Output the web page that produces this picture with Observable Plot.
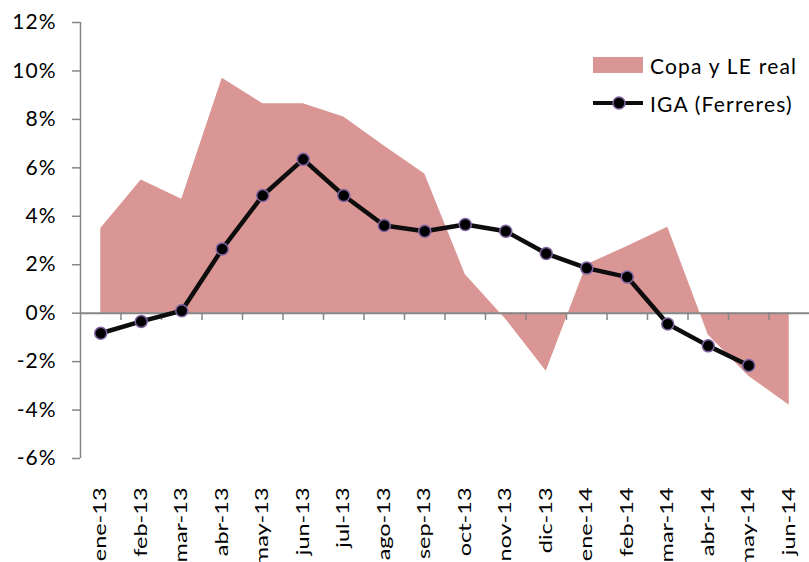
<!DOCTYPE html>
<html><head><meta charset="utf-8">
<script src="https://cdn.jsdelivr.net/npm/d3@7"></script>
<script src="https://cdn.jsdelivr.net/npm/@observablehq/plot@0.6"></script>
<style>
body{margin:0;background:#fff;}
#wrap{position:relative;width:809px;height:562px;}
#legend{position:absolute;left:593px;top:46px;font-family:Lato,"Open Sans",sans-serif;font-size:21px;letter-spacing:1.2px;color:#000;}
.row{display:flex;align-items:center;height:38px;}
.row svg{margin-right:7px;}
</style>
</head><body>
<div id="wrap"><div id="legend">
<div class="row"><svg width="50" height="16"><rect x="0" y="0" width="50" height="16" fill="#d99694"/></svg>Copa y LE real</div>
<div class="row"><svg width="50" height="16"><line x1="0" y1="8" x2="50" y2="8" stroke="#0d0d0d" stroke-width="4"/><circle cx="26" cy="8" r="6" fill="#000" stroke="#8064a2" stroke-width="1.5"/></svg>IGA (Ferreres)</div>
</div></div>
<script>
const months = ["ene-13","feb-13","mar-13","abr-13","may-13","jun-13","jul-13","ago-13","sep-13","oct-13","nov-13","dic-13","ene-14","feb-14","mar-14","abr-14","may-14","jun-14"];
const copa = [3.5, 5.5, 4.7, 9.7, 8.65, 8.65, 8.1, 6.9, 5.75, 1.6, -0.25, -2.4, 2.0, 2.75, 3.55, -0.9, -2.6, -3.8];
const iga = [-0.83, -0.34, 0.1, 2.65, 4.86, 6.35, 4.86, 3.62, 3.38, 3.66, 3.38, 2.46, 1.86, 1.49, -0.45, -1.35, -2.16, null];
const yTicks = [-6,-4,-2,0,2,4,6,8,10,12];

const rows = months.map((m,i)=>({i, m, copa: copa[i], iga: iga[i]}));
const igaRows = rows.filter(d=>d.iga!=null);
const boundaries = d3.range(0.5, months.length - 0.5, 1);
const axisGray = "#868686";

const chart = Plot.plot({
  width: 809, height: 562,
  marginLeft: 80, marginRight: 0, marginTop: 22, marginBottom: 104,
  style: {fontFamily: "Lato, 'Open Sans', sans-serif", background: "#fff"},
  x: {type: "linear", domain: [-0.5, months.length - 0.5]},
  y: {domain: [-6, 12]},
  marks: [
    Plot.areaY(rows, {x: "i", y: "copa", fill: "#d99694"}),
    Plot.ruleY([0], {stroke: axisGray, strokeWidth: 2}),
    Plot.ruleX(boundaries, {x: d=>d, y1: 0, y2: -0.3, stroke: axisGray, strokeWidth: 1.5}),
    Plot.ruleX([-0.5], {y1: -6, y2: 12, stroke: axisGray, strokeWidth: 1.5}),
    Plot.axisY({ticks: yTicks, tickFormat: d=>d+"%", tickSize: 8, tickPadding: 16, fontSize: 21, stroke: axisGray, strokeWidth: 1.5, color: "#000", label: null}),
    Plot.axisX({ticks: d3.range(months.length), tickFormat: i=>months[i], tickSize: 0, tickPadding: 29, tickRotate: -90, fontSize: 17, label: null, color:"#000"}),
    Plot.lineY(igaRows, {x: "i", y: "iga", stroke: "#0d0d0d", strokeWidth: 4.5}),
    Plot.dot(igaRows, {x: "i", y: "iga", r: 6, fill: "#000", stroke: "#8064a2", strokeWidth: 1.5})
  ]
});
document.getElementById("wrap").prepend(chart);
chart.style.position="absolute"; chart.style.left="0"; chart.style.top="0";
// y tick labels slightly spaced
d3.select(chart).selectAll('g[aria-label="y-axis tick label"] text').attr("letter-spacing", "1px");
// stretch x tick labels along their reading direction
d3.select(chart).selectAll('g[aria-label="x-axis tick label"] text').each(function(){
  const t = this.getAttribute("transform") || "";
  this.setAttribute("transform", t + " scale(1.38,1)");
});
</script>
</body></html>
